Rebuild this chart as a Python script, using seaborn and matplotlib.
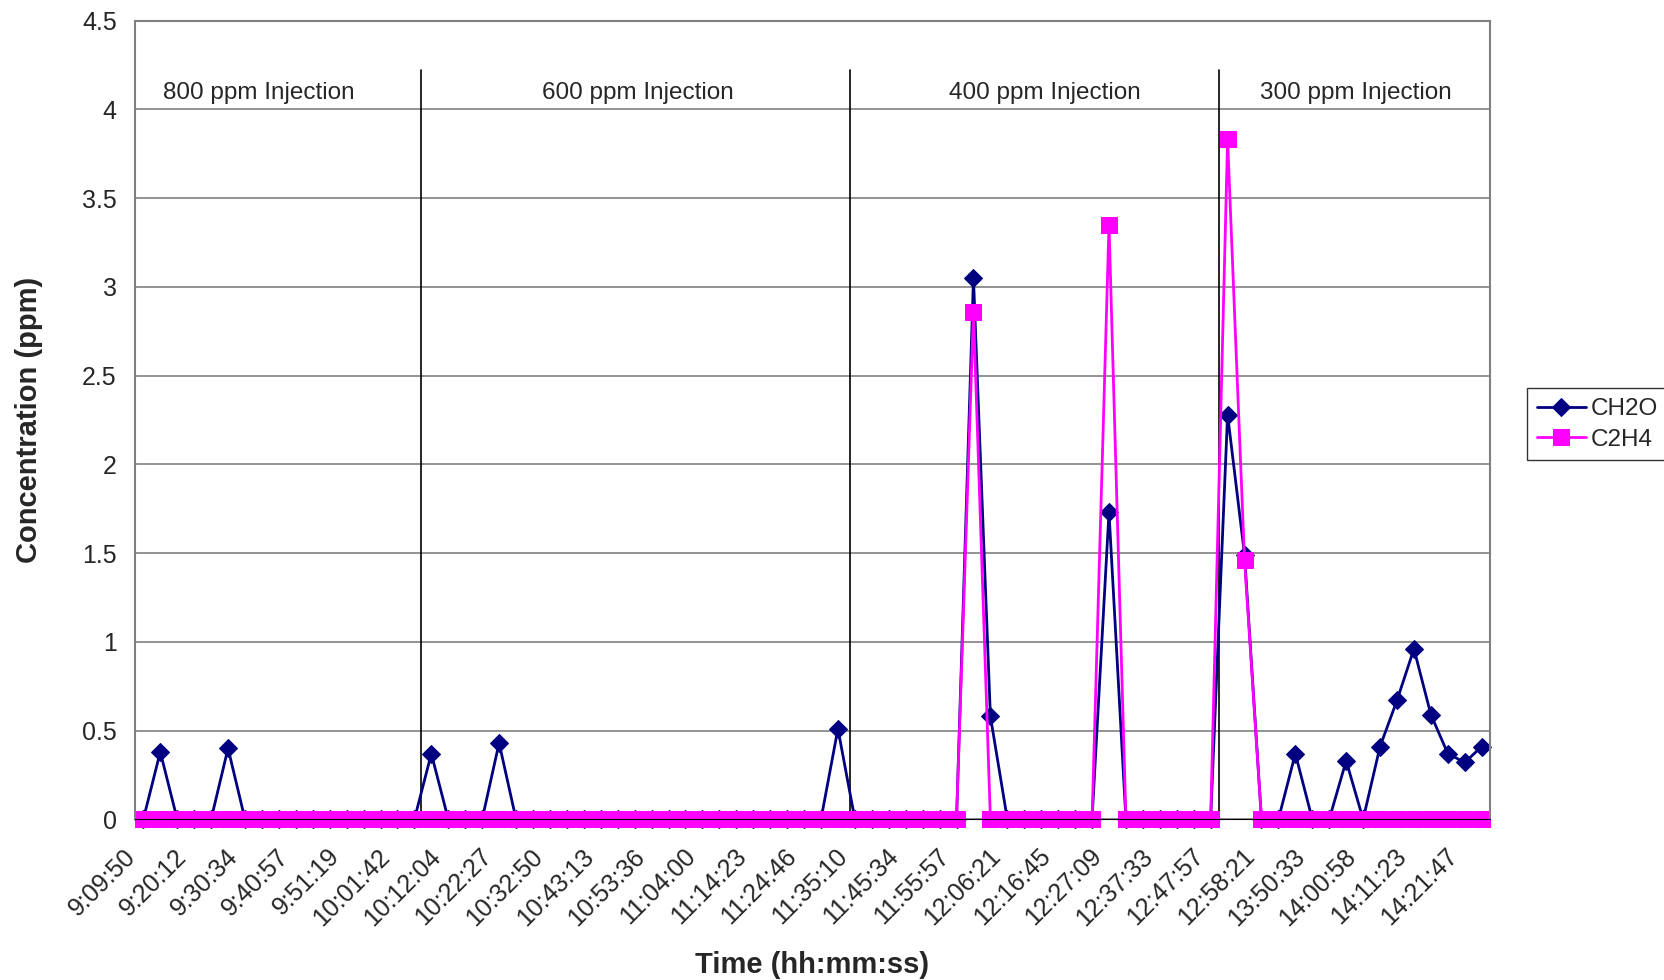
import numpy as np
import pandas as pd
import matplotlib.pyplot as plt
import matplotlib.transforms as mtransforms
import seaborn as sns

# 80 samples, one every ~3.5 min; only every third time is labelled on the axis
tick_labels = ["9:09:50", "9:20:12", "9:30:34", "9:40:57", "9:51:19", "10:01:42",
               "10:12:04", "10:22:27", "10:32:50", "10:43:13", "10:53:36", "11:04:00",
               "11:14:23", "11:24:46", "11:35:10", "11:45:34", "11:55:57", "12:06:21",
               "12:16:45", "12:27:09", "12:37:33", "12:47:57", "12:58:21", "13:50:33",
               "14:00:58", "14:11:23", "14:21:47"]

ch2o = [0, 0.38, 0, 0, 0, 0.40, 0, 0, 0, 0,
        0, 0, 0, 0, 0, 0, 0, 0.37, 0, 0,
        0, 0.43, 0, 0, 0, 0, 0, 0, 0, 0,
        0, 0, 0, 0, 0, 0, 0, 0, 0, 0,
        0, 0.51, 0, 0, 0, 0, 0, 0, 0, 3.05,
        0.58, 0, 0, 0, 0, 0, 0, 1.73, 0, 0,
        0, 0, 0, 0, 2.28, 1.49, 0, 0, 0.37, 0,
        0, 0.33, 0, 0.41, 0.67, 0.96, 0.59, 0.37, 0.32, 0.41]

c2h4 = [0] * 49 + [2.86] + [0] * 7 + [3.35] + [0] * 6 + [3.83, 1.46] + [0] * 14

injections = ["800 ppm Injection", "600 ppm Injection", "400 ppm Injection", "300 ppm Injection"]


def create_plot(df):
    fig = plt.figure(figsize=(16.65, 9.8), dpi=100)
    ax = fig.add_axes([0.081, 0.164, 0.814, 0.815])

    sns.lineplot(data=df, x='sample', y='CH2O', ax=ax, color='#000080', marker='D',
                 markersize=9, markeredgecolor='#000080', linewidth=2, label='CH2O')
    sns.lineplot(data=df, x='sample', y='C2H4', ax=ax, color='#FF00FF', marker='s',
                 markersize=11.5, markeredgecolor='#FF00FF', linewidth=2, label='C2H4')
    for ln in ax.lines:
        ln.set_clip_on(False)

    ax.set_xlim(-0.5, len(df) - 0.5)
    ax.set_ylim(0, 4.5)
    ax.set_yticks(np.arange(0, 4.51, 0.5))
    ax.set_yticklabels([f"{v:g}" for v in np.arange(0, 4.51, 0.5)])
    ax.yaxis.grid(True, color='#808080', linewidth=1.2)
    ax.set_axisbelow(True)

    ax.set_xticks(np.arange(0, len(df), 3))
    ax.set_xticklabels(tick_labels, rotation=45, ha='right', rotation_mode='anchor')
    ax.set_xticks(np.arange(-0.5, len(df), 1), minor=True)
    ax.tick_params(axis='x', which='major', length=0, pad=18, labelsize=18)
    ax.tick_params(axis='x', which='minor', length=8, direction='inout', color='black')
    ax.tick_params(axis='y', labelsize=18, length=5, pad=8, color='black')
    shift = mtransforms.ScaledTranslation(-14 / 72, 0, fig.dpi_scale_trans)
    for lbl in ax.get_xticklabels():
        lbl.set_transform(lbl.get_transform() + shift)

    for side in ['top', 'right', 'left']:
        ax.spines[side].set_color('#808080')
        ax.spines[side].set_linewidth(1.5)
    ax.spines['bottom'].set_color('black')

    # injection boundaries and section labels
    for xb in [16.4, 41.7, 63.5]:
        ax.plot([xb, xb], [0, 4.22], color='black', linewidth=1.2, zorder=1.5)
    for xt, txt in zip([6.8, 29.2, 53.2, 71.6], injections):
        ax.text(xt, 4.09, txt, ha='center', va='center', fontsize=17.5)

    ax.set_xlabel('Time (hh:mm:ss)', fontsize=21, fontweight='bold')
    ax.set_ylabel('Concentration (ppm)', fontsize=21, fontweight='bold')
    ax.xaxis.set_label_coords(0.5, -0.165)
    ax.yaxis.set_label_coords(-0.068, 0.5)

    leg = ax.legend(loc='center left', bbox_to_anchor=(0.917, 0.567),
                    bbox_transform=fig.transFigure, fontsize=17.5, frameon=True,
                    fancybox=False, edgecolor='black', handlelength=2.05,
                    borderaxespad=0, borderpad=0.4, labelspacing=0.35, handletextpad=0.2)
    leg.get_frame().set_linewidth(1)
    return fig


def main():
    sns.set_style('white')
    plt.rcParams['font.family'] = ['Liberation Sans', 'DejaVu Sans']
    df = pd.DataFrame({'sample': np.arange(len(ch2o)), 'CH2O': ch2o, 'C2H4': c2h4})
    fig = create_plot(df)
    fig.savefig("out.png", dpi=100)


if __name__ == "__main__":
    main()
